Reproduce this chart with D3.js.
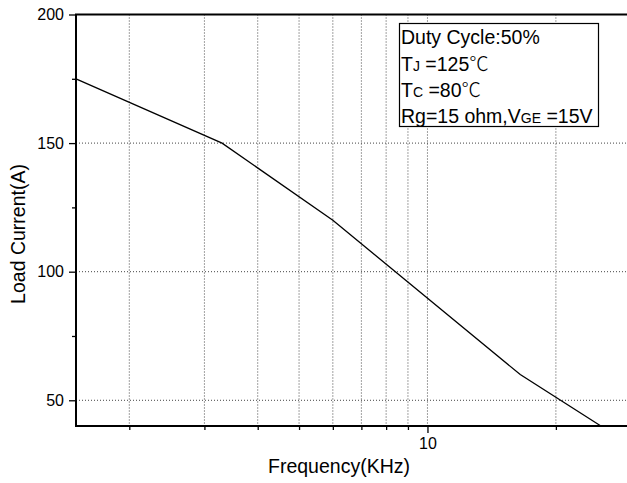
<!DOCTYPE html>
<html><head><meta charset="utf-8">
<script src="https://cdn.jsdelivr.net/npm/d3@7"></script>
<style>
body{margin:0;background:#fff;}
svg text{font-family:"Liberation Sans",Arial,sans-serif;fill:#000;}
</style></head>
<body><svg id="c" width="627" height="483"></svg>
<script>
// Data
const freq = [1.5, 3.3, 6, 16.5, 25.5];
const current = [175, 150, 120, 60, 40];
const yTicksMajor = [50, 100, 150, 200];
const yTicksMinor = [75, 125, 175];
const xTicksMajor = [10];
const xTicksMinor = [2, 3, 4, 5, 6, 7, 8, 9, 20];
const xGrid = [2, 3, 4, 5, 6, 7, 8, 9, 10, 20];
const yGrid = [50, 100, 150];
const legendTitle = "Duty Cycle:50%";

const svg = d3.select("#c");
const L = 76, T = 14.5, B = 426, R = 631;
const x = d3.scaleLog().domain([1.5, 30]).range([L, R]);
const y = d3.scaleLinear().domain([40, 200]).range([B, T]);

// grid
const g = svg.append("g");
g.selectAll(".vg").data(xGrid).enter().append("line")
  .attr("x1", d => x(d)).attr("x2", d => x(d)).attr("y1", T).attr("y2", B)
  .attr("stroke", "#444").attr("stroke-width", 1).attr("stroke-dasharray", "1,2");
g.selectAll(".hg").data(yGrid).enter().append("line")
  .attr("x1", L).attr("x2", R).attr("y1", d => y(d)).attr("y2", d => y(d))
  .attr("stroke", "#444").attr("stroke-width", 1).attr("stroke-dasharray", "1,2");

// line
svg.append("path").datum(freq.map((f, i) => [f, current[i]]))
  .attr("fill", "none").attr("stroke", "#000").attr("stroke-width", 1.3)
  .attr("d", d3.line().x(d => x(d[0])).y(d => y(d[1])));

// axes
const yAx = svg.append("g").attr("transform", `translate(${L},0)`)
  .call(d3.axisLeft(y).tickValues(yTicksMajor).tickSize(7).tickPadding(5).tickFormat(d3.format("d")));
const yAxm = svg.append("g").attr("transform", `translate(${L},0)`)
  .call(d3.axisLeft(y).tickValues(yTicksMinor).tickSize(4).tickFormat(""));
const xAx = svg.append("g").attr("transform", `translate(0,${B})`)
  .call(d3.axisBottom(x).tickValues(xTicksMajor).tickSize(7).tickPadding(5).tickFormat(d3.format("d")));
const xAxm = svg.append("g").attr("transform", `translate(0,${B})`)
  .call(d3.axisBottom(x).tickValues(xTicksMinor).tickSize(4).tickFormat(""));
[yAx, yAxm, xAx, xAxm].forEach(a => {
  a.select(".domain").remove();
  a.selectAll(".tick line").attr("stroke", "#000").attr("stroke-width", 1.3);
  a.selectAll("text").style("font-size", "16px").attr("fill", "#000");
});
// frame
svg.append("path").attr("d", `M${R},${T}H${L}V${B}H${R}`)
  .attr("fill", "none").attr("stroke", "#000").attr("stroke-width", 2);

// titles
svg.append("text").attr("x", 339).attr("y", 473).attr("text-anchor", "middle")
  .style("font-size", "19.5px").text("Frequency(KHz)");
svg.append("text").attr("transform", "translate(25,234) rotate(-90)").attr("text-anchor", "middle")
  .style("font-size", "19.5px").text("Load Current(A)");

// legend box
svg.append("rect").attr("x", 399.5).attr("y", 23.5).attr("width", 199).attr("height", 103)
  .attr("fill", "#fff").attr("stroke", "#000").attr("stroke-width", 1.2);
const lx = 401, fs = "19.5px", sub = "14px";
const cjk = '"Noto Sans CJK SC","Noto Sans CJK JP",sans-serif';
svg.append("text").attr("x", lx).attr("y", 44).style("font-size", fs).text(legendTitle);
const t2 = svg.append("text").attr("x", lx).attr("y", 70.5).style("font-size", fs);
t2.append("tspan").text("T");
t2.append("tspan").style("font-size", sub).text("J");
t2.append("tspan").text(" =125");
t2.append("tspan").style("font-family", cjk).style("font-weight", "300").text("℃");
const t3 = svg.append("text").attr("x", lx).attr("y", 97).style("font-size", fs);
t3.append("tspan").text("T");
t3.append("tspan").style("font-size", sub).text("C");
t3.append("tspan").text(" =80");
t3.append("tspan").style("font-family", cjk).style("font-weight", "300").text("℃");
const t4 = svg.append("text").attr("x", lx).attr("y", 123).style("font-size", fs);
t4.append("tspan").text("Rg=15 ohm,V");
t4.append("tspan").style("font-size", sub).text("GE");
t4.append("tspan").text(" =15V");
</script></body></html>
